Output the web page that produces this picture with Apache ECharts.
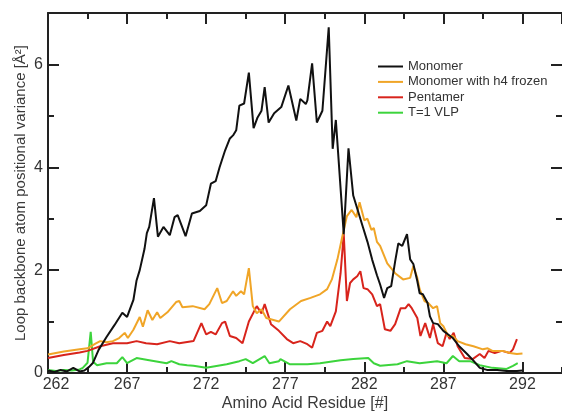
<!DOCTYPE html>
<html>
<head>
<meta charset="utf-8">
<script src="https://cdn.jsdelivr.net/npm/echarts@6/dist/echarts.min.js"></script>
<style>
html,body{margin:0;padding:0;background:#fff;}
#chart{width:562px;height:412px;}
</style>
</head>
<body>
<div id="chart"></div>
<script>
// ---- data ----
var seriesNames = ['Monomer', 'Monomer with h4 frozen', 'Pentamer', 'T=1 VLP'];

var monomerX = [262.0,262.4,262.8,263.2,263.6,264.0,264.3,264.6,264.85,265.2,265.7,266.2,266.7,267.0,267.4,267.6,267.8,268.1,268.25,268.4,268.7,268.95,269.3,269.7,270.0,270.2,270.7,271.1,271.4,271.6,272.0,272.3,272.6,272.85,273.2,273.5,273.7,273.9,274.1,274.4,274.7,275.0,275.25,275.5,275.7,275.95,276.3,276.75,277.2,277.7,277.95,278.3,278.4,278.7,279.0,279.35,279.75,280.0,280.2,280.7,281.0,281.3,281.6,281.9,282.2,282.5,282.8,283.0,283.25,283.45,283.7,283.95,284.15,284.4,284.7,284.9,285.1,285.35,285.5,285.7,286.0,286.15,286.35,286.65,287.0,287.3,287.6,288.0,288.5,288.9,289.3,289.75,290.4,291.0,291.65,292.0];
var monomerY = [0.05,0.02,0.06,0.03,0.10,0.03,0.05,0.12,0.20,0.45,0.70,0.93,1.17,1.09,1.42,1.80,2.00,2.41,2.72,2.84,3.40,2.65,2.84,2.68,3.03,3.07,2.66,3.10,3.13,3.15,3.26,3.68,3.73,4.00,4.33,4.56,4.62,4.72,5.20,5.24,5.84,4.76,4.97,5.10,5.56,4.87,5.05,5.17,5.59,4.91,5.33,5.23,5.30,6.02,4.87,5.10,6.72,4.36,4.92,2.70,4.37,3.45,3.15,2.85,2.55,2.20,1.90,1.72,1.46,1.65,1.69,2.17,2.52,2.47,2.70,2.21,2.12,1.79,1.55,1.53,1.36,1.10,0.97,0.95,0.82,0.75,0.68,0.52,0.37,0.24,0.10,0.06,0.06,0.04,0.04,0.05];

var frozenX = [262.0,263.0,264.0,264.5,265.0,265.3,265.7,266.1,266.5,266.85,267.05,267.4,267.8,268.0,268.3,268.6,268.9,269.1,269.55,270.1,270.3,270.5,271.15,271.9,272.2,272.7,273.0,273.3,273.7,273.9,274.2,274.4,274.7,274.95,275.2,275.5,275.8,276.6,277.3,278.0,278.6,279.2,279.65,279.95,280.3,280.6,280.9,281.2,281.5,281.7,282.0,282.2,282.45,282.6,282.8,283.0,283.45,283.95,284.45,284.9,285.1,285.35,285.5,285.8,286.05,286.35,286.6,286.8,287.0,287.3,287.6,287.9,288.4,288.9,289.5,289.8,290.1,290.75,291.2,291.65,292.0];
var frozenY = [0.36,0.42,0.46,0.48,0.57,0.62,0.60,0.62,0.68,0.78,0.68,0.84,1.09,0.90,1.22,1.03,1.18,1.07,1.18,1.38,1.40,1.28,1.30,1.24,1.34,1.65,1.36,1.40,1.59,1.50,1.59,1.53,2.04,1.30,1.16,1.24,1.07,1.00,1.24,1.40,1.46,1.53,1.63,1.82,2.21,2.64,3.05,3.17,3.03,3.32,2.97,3.00,2.78,2.82,2.55,2.47,2.13,1.94,1.82,1.85,2.08,1.85,1.63,1.40,1.36,1.26,1.30,0.97,0.91,0.72,0.72,0.62,0.56,0.52,0.46,0.48,0.43,0.43,0.39,0.37,0.38];

var pentamerX = [262.0,263.0,264.0,264.5,265.3,266.1,267.0,267.6,268.2,268.9,269.7,270.3,271.2,271.7,272.0,272.3,272.6,273.0,273.2,273.5,273.9,274.3,274.7,275.2,275.5,275.7,276.1,276.6,277.1,277.5,277.95,278.4,278.7,279.0,279.35,279.65,279.85,280.2,280.5,280.7,280.9,281.1,281.3,281.55,281.75,281.95,282.2,282.5,282.8,283.0,283.3,283.65,283.95,284.3,284.6,284.8,285.0,285.35,285.55,285.85,286.15,286.35,286.65,286.95,287.2,287.4,287.65,287.9,288.35,288.85,289.3,289.6,289.85,290.25,290.7,291.2,291.4,291.65];
var pentamerY = [0.29,0.35,0.40,0.43,0.52,0.58,0.58,0.62,0.58,0.56,0.62,0.58,0.62,0.97,0.75,0.80,0.75,0.97,1.00,0.72,0.68,0.58,1.00,1.30,1.16,1.34,0.95,0.82,0.66,0.58,0.62,0.56,0.49,0.78,0.82,1.00,0.91,1.20,1.94,2.70,1.40,1.75,1.82,1.88,1.98,1.65,1.63,1.53,1.30,1.34,0.85,0.82,0.95,1.26,1.26,1.34,1.26,1.07,0.72,0.97,0.68,0.95,0.58,0.52,0.78,0.66,0.78,0.52,0.29,0.27,0.37,0.29,0.43,0.39,0.43,0.39,0.46,0.66];

var vlpX = [262.0,262.5,263.0,263.5,264.0,264.2,264.5,264.7,264.85,265.1,265.7,266.35,266.7,267.0,267.6,268.4,269.5,269.8,270.3,270.8,271.2,272.0,273.3,274.1,274.5,274.95,275.7,276.0,276.6,276.7,277.3,278.4,279.2,280.5,281.3,282.25,282.6,283.0,284.1,284.7,285.5,286.6,287.2,287.6,288.0,288.7,289.3,290.1,291.0,291.4,291.7];
var vlpY = [0.06,0.04,0.06,0.05,0.07,0.10,0.20,0.80,0.22,0.15,0.19,0.19,0.31,0.19,0.29,0.25,0.19,0.23,0.17,0.15,0.14,0.10,0.17,0.23,0.27,0.19,0.33,0.19,0.23,0.27,0.17,0.17,0.19,0.25,0.27,0.29,0.19,0.14,0.17,0.23,0.19,0.23,0.19,0.33,0.23,0.23,0.15,0.10,0.08,0.14,0.19];

var xMin = 262, xMax = 294.5, xMajor = 5, xMinor = 2.5;
var yMin = 0, yMax = 7, yMajor = 2, yMinor = 1;
var xName = 'Amino Acid Residue [#]';
var yName = 'Loop backbone atom positional variance [Å²]';
var colors = ['#111111', '#f0a527', '#d8241c', '#3cd43c'];

function zip(xs, ys) { return xs.map(function (x, i) { return [x, ys[i]]; }); }

var FONT = "'Liberation Sans', Arial, Helvetica, sans-serif";
var AX = '#222';

function xAx(pos, major, withLine, withLabel) {
  return {
    type: 'value', position: pos, min: xMin, max: xMax,
    interval: major ? xMajor : xMinor,
    name: withLabel ? xName : '', nameLocation: 'middle', nameGap: 23, nameMoveOverlap: false,
    nameTextStyle: { fontFamily: FONT, fontSize: 16, color: '#3a3a3a' },
    axisLine: { show: withLine, onZero: false, lineStyle: { color: AX, width: 2 } },
    axisTick: { show: true, inside: true, length: major ? 11 : 6, lineStyle: { color: AX, width: 2 } },
    axisLabel: {
      show: withLabel, margin: 4, fontFamily: FONT, fontSize: 16, color: '#333',
      showMaxLabel: false,
      formatter: function (v) { return v === xMin ? '{first|' + v + '}' : String(v); },
      rich: { first: { padding: [0, 0, 0, 16], fontFamily: FONT, fontSize: 16, color: '#333' } }
    },
    splitLine: { show: false }
  };
}
function yAx(pos, major, withLine, withLabel) {
  return {
    type: 'value', position: pos, min: yMin, max: yMax,
    interval: major ? yMajor : yMinor,
    name: withLabel ? yName : '', nameLocation: 'middle', nameGap: 20, nameMoveOverlap: false,
    nameTextStyle: { fontFamily: FONT, fontSize: 15, color: '#3a3a3a' },
    axisLine: { show: withLine, onZero: false, lineStyle: { color: AX, width: 2 } },
    axisTick: { show: true, inside: true, length: major ? 11 : 6, lineStyle: { color: AX, width: 2 } },
    axisLabel: { show: withLabel, margin: 5, fontFamily: FONT, fontSize: 16, color: '#333', showMaxLabel: false },
    splitLine: { show: false }
  };
}

var chart = echarts.init(document.getElementById('chart'), null, { renderer: 'canvas' });
var data = [zip(monomerX, monomerY), zip(frozenX, frozenY), zip(pentamerX, pentamerY), zip(vlpX, vlpY)];

chart.setOption({
  animation: false,
  backgroundColor: '#fff',
  color: colors,
  grid: { left: 48, right: 0, top: 13, bottom: 39, containLabel: false, outerBoundsMode: 'none' },
  legend: {
    data: seriesNames, orient: 'vertical', left: 373, top: 54,
    icon: 'rect', itemWidth: 25, itemHeight: 2, itemGap: 0.4,
    textStyle: { fontFamily: FONT, fontSize: 13, color: '#333', lineHeight: 15 }
  },
  xAxis: [xAx('bottom', true, true, true), xAx('bottom', false, false, false), xAx('top', true, true, false), xAx('top', false, false, false)],
  yAxis: [yAx('left', true, true, true), yAx('left', false, false, false), yAx('right', true, false, false), yAx('right', false, false, false)],
  series: seriesNames.map(function (n, i) {
    return {
      name: n, type: 'line', data: data[i], xAxisIndex: 0, yAxisIndex: 0,
      showSymbol: false, symbol: 'none', lineStyle: { width: 2, color: colors[i] },
      z: 10 - i
    };
  })
});
</script>
</body>
</html>
